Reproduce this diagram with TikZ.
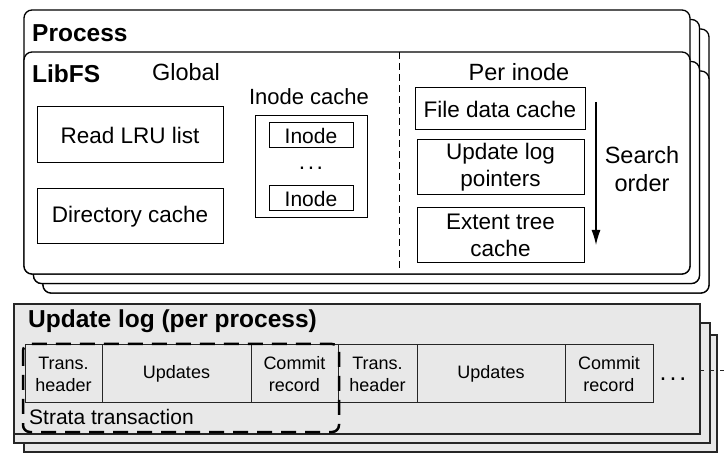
\documentclass[tikz,border=0pt]{standalone}
\usepackage{fontspec}
\setmainfont{Liberation Sans}
\usetikzlibrary{arrows.meta}
\begin{document}
\begin{tikzpicture}[x=1pt,y=-1pt,
  frame/.style={draw=black,line width=1.3pt,fill=white,rounded corners=8pt},
  logframe/.style={draw=black!85,line width=1.1pt,fill=black!9},
  cbox/.style={draw=black,line width=1pt,fill=white,inner sep=0pt,align=center,font=\fontsize{22.5}{27}\selectfont},
  ibox/.style={draw=black,line width=1pt,fill=white,inner sep=0pt,font=\fontsize{21}{25}\selectfont},
  cell/.style={draw=black!85,line width=1pt,fill=black!9,inner sep=0pt,align=center,font=\fontsize{18}{22}\selectfont},
  title/.style={anchor=west,inner sep=0pt,font=\bfseries\fontsize{24.5}{28}\selectfont},
  lbl/.style={inner sep=0pt,align=center,font=\fontsize{23.5}{28}\selectfont}]
\useasboundingbox (0,0) rectangle (726,470);
% process stack
\foreach \d in {19,9.5,0}{
  \draw[frame] (24+\d,10+\d) rectangle (690+\d,274+\d);
  \draw[frame] (24+\d,52+\d) rectangle (690+\d,274+\d);
}
\node[title] (proc) at (32,33) {Process};
\node[title] (libfs) at (32,74) {LibFS};
\node[lbl] (global) at (186,72) {Global};
\node[cbox,minimum width=186pt,minimum height=56pt] (lru) at (130,135) {Read LRU list};
\node[cbox,minimum width=186pt,minimum height=55pt] (dir) at (130,216.5) {Directory cache};
\node[inner sep=0pt,font=\fontsize{22}{27}\selectfont] (iclabel) at (309,97) {Inode cache};
\node[ibox,minimum width=112pt,minimum height=102pt] (ic) at (311,167) {};
\node[ibox,minimum width=84pt,minimum height=25pt] (in1) at (311,135.5) {Inode};
\node[inner sep=0pt,font=\fontsize{23}{25}\selectfont] (idots) at (311,168) {.\hspace{2.5pt}.\hspace{2.5pt}.};
\node[ibox,minimum width=84pt,minimum height=25pt] (in2) at (311,198.5) {Inode};
\coordinate (dtop) at (399,52);
\coordinate (dbot) at (399,270);
\draw[line width=1pt,dash pattern=on 7pt off 4pt] (dtop) -- (dbot);
\node[lbl] (perinode) at (519,72) {Per inode};
\node[cbox,minimum width=170pt,minimum height=42pt] (fdc) at (500,109) {File data cache};
\node[cbox,minimum width=167pt,minimum height=55pt] (ulp) at (500.5,167.5) {Update log\\pointers};
\node[cbox,minimum width=167pt,minimum height=55pt] (etc) at (500.5,235.5) {Extent tree\\cache};
\coordinate (atop) at (596,102);
\coordinate (abot) at (596,245);
\draw[line width=1.2pt,-{Latex[length=15pt,width=9pt]}] (atop) -- (abot);
\node[lbl] (search) at (642,169) {Search\\order};
% update log stack
\draw[logframe] (24,335) rectangle (717,452);
\draw[logframe] (14,323) rectangle (710,443);
\draw[logframe] (14,304) rectangle (700,434);
\coordinate (tl) at (700,371);
\coordinate (tr) at (726,371);
\draw[line width=1pt,black!85,dash pattern=on 4pt off 6pt] (tl) -- (tr);
\node[title] (ulog) at (28,321) {Update log (per process)};
\node[cell,minimum width=77pt,minimum height=58pt] (th1) at (63.5,374) {Trans.\\header};
\node[cell,minimum width=149pt,minimum height=58pt] (up1) at (176.5,374) {Updates};
\node[cell,minimum width=87pt,minimum height=58pt] (cr1) at (294.5,374) {Commit\\record};
\node[cell,minimum width=79pt,minimum height=58pt] (th2) at (377.5,374) {Trans.\\header};
\node[cell,minimum width=148pt,minimum height=58pt] (up2) at (491,374) {Updates};
\node[cell,minimum width=88pt,minimum height=58pt] (cr2) at (609,374) {Commit\\record};
\node[inner sep=0pt,font=\fontsize{25}{28}\selectfont] (ldots) at (673,379) {.\hspace{3pt}.\hspace{3pt}.};
\coordinate (s1) at (23,344);
\coordinate (s2) at (339,432);
\draw[line width=2.5pt,rounded corners=7pt,dash pattern=on 15pt off 9pt] (s1) rectangle (s2);
\node[anchor=west,inner sep=0pt,font=\fontsize{21}{25}\selectfont] (strata) at (29,417) {Strata transaction};
\end{tikzpicture}
\end{document}
